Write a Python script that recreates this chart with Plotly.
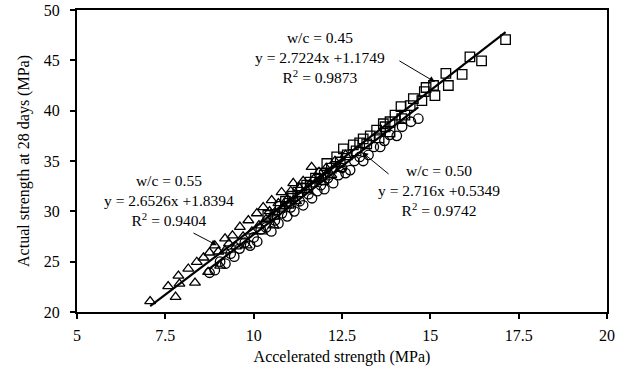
import plotly.graph_objects as go

# w/c = 0.45 (squares)
x45 = [10.4, 10.6, 10.75, 10.9, 11.0, 11.1, 11.25, 11.35, 11.5, 11.6, 11.75, 11.9, 12.0, 12.07, 12.2,
       12.35, 12.45, 12.54, 12.65, 12.82, 12.9, 13.0, 13.1, 13.2, 13.3, 13.48, 13.55, 13.67, 13.72, 13.86,
       13.86, 14.0, 14.17, 14.19, 14.28, 14.43, 14.52, 14.76, 14.83, 14.88, 15.09, 15.13, 15.44, 15.51,
       15.9, 16.12, 16.45, 17.13]
y45 = [29.6, 29.7, 30.5, 31.0, 30.8, 31.5, 31.9, 32.3, 32.6, 32.9, 33.3, 33.8, 33.6, 34.75, 34.3,
       35.4, 34.9, 36.2, 35.6, 36.6, 36.0, 36.8, 37.2, 36.7, 37.5, 38.06, 37.3, 38.7, 38.4, 37.9,
       38.9, 39.55, 40.4, 39.2, 39.55, 40.5, 41.2, 41.0, 41.9, 42.3, 42.5, 41.5, 43.7, 42.5,
       43.6, 45.35, 44.95, 47.05]

# w/c = 0.50 (circles)
x50 = [8.75, 8.9, 9.05, 9.2, 9.35, 9.45, 9.6, 9.75, 9.9, 10.0, 10.1, 10.2, 10.35, 10.5, 10.6, 10.7,
       10.8, 10.95, 11.05, 11.15, 11.3, 11.4, 11.55, 11.65, 11.8, 11.9, 12.0, 12.1, 12.25, 12.4, 12.5,
       12.6, 12.73, 12.85, 13.0, 13.1, 13.25, 13.4, 13.58, 13.7, 13.85, 14.05, 14.2, 14.45, 14.66]
y50 = [23.9, 24.15, 25.0, 24.8, 25.8, 25.5, 26.3, 26.9, 26.6, 27.4, 27.0, 28.2, 28.4, 28.0, 29.1, 28.8,
       29.8, 29.5, 30.4, 30.0, 31.0, 30.6, 31.7, 31.3, 32.0, 32.6, 32.2, 33.3, 32.8, 33.6, 34.3,
       33.8, 34.1, 35.0, 35.4, 35.0, 35.6, 36.4, 36.4, 37.0, 37.6, 37.5, 38.4, 38.9, 39.2]

# w/c = 0.55 (triangles)
x55 = [7.07, 7.58, 7.79, 7.87, 7.9, 8.15, 8.34, 8.39, 8.58, 8.71, 8.75, 8.9, 9.05, 9.0, 9.19, 9.19,
       9.3, 9.4, 9.5, 9.61, 9.7, 9.8, 9.85, 9.95, 10.09, 10.15, 10.23, 10.27, 10.35, 10.45, 10.51,
       10.56, 10.6, 10.7, 10.79, 10.85, 10.95, 11.05, 11.12, 11.2, 11.3, 11.4, 11.5, 11.64, 11.7,
       11.85, 11.95, 12.05, 12.2, 12.3, 12.45, 12.6]
y55 = [21.06, 22.55, 21.5, 23.6, 22.8, 24.3, 22.9, 24.97, 25.4, 23.97, 25.9, 26.6, 24.6, 26.0, 26.1, 27.3,
       26.8, 27.6, 26.5, 28.45, 27.5, 26.6, 29.1, 28.0, 29.8, 28.6, 28.0, 30.4, 29.2, 30.0, 31.1,
       28.6, 29.9, 30.8, 31.9, 30.5, 31.2, 32.0, 32.8, 31.0, 32.3, 33.0, 32.1, 34.4, 33.2,
       33.9, 32.9, 34.3, 33.6, 35.0, 34.2, 35.6]

# trendline fits: slope, intercept, x-range
wc_labels = ["0.45", "0.50", "0.55"]
slopes = [2.7224, 2.716, 2.6526]
intercepts = [1.1749, 0.5349, 1.8394]
slope_text = ["2.7224", "2.716", "2.6526"]
intercept_text = ["1.1749", "0.5349", "1.8394"]
r2_values = ["0.9873", "0.9742", "0.9404"]
fit_x_min = [10.4, 8.75, 7.07]
fit_x_max = [17.13, 14.66, 12.6]

x_ticks = [5, 7.5, 10, 12.5, 15, 17.5, 20]
x_tick_text = ["5", "7.5", "10", "12.5", "15", "17.5", "20"]
y_ticks = [20, 25, 30, 35, 40, 45, 50]

FONT = "Liberation Serif, Times New Roman, serif"

fig = go.Figure()

series = [(x45, y45, "square-open"), (x50, y50, "circle-open"), (x55, y55, "triangle-up-open")]
for (xs, ys, sym), lab in zip(series, wc_labels):
    fig.add_trace(go.Scatter(
        x=xs, y=ys, mode="markers", name="w/c = " + lab,
        marker=dict(symbol=sym, size=9.5, color="black", line=dict(color="black", width=1.3)),
        showlegend=False))

for s, b, x0, x1 in zip(slopes, intercepts, fit_x_min, fit_x_max):
    fig.add_trace(go.Scatter(
        x=[x0, x1], y=[s * x0 + b, s * x1 + b], mode="lines",
        line=dict(color="black", width=2.2), showlegend=False))

# text blocks
text_pos = [(11.88, 45.3), (15.25, 32.1), (7.6, 31.05)]
arrow_tip = [(15.13, 42.85), (13.07, 35.87), (8.96, 26.63)]
arrow_off = [(-37, -22), (28, 23), (-25, -13)]
for i in range(3):
    txt = "w/c = %s<br>y = %sx +%s<br>R<sup>2</sup> = %s" % (
        wc_labels[i], slope_text[i], intercept_text[i], r2_values[i])
    fig.add_annotation(x=text_pos[i][0], y=text_pos[i][1], text=txt, showarrow=False,
                       font=dict(family=FONT, size=15.5, color="black"), align="center",
                       xanchor="center", yanchor="middle")
    fig.add_annotation(x=arrow_tip[i][0], y=arrow_tip[i][1], text="", showarrow=True,
                       ax=arrow_off[i][0], ay=arrow_off[i][1], arrowhead=2, arrowsize=1.2,
                       arrowwidth=1, arrowcolor="black")

axis_common = dict(showgrid=False, zeroline=False, showline=True, linecolor="black", linewidth=2,
                   mirror=True, ticks="outside", ticklen=5, tickwidth=1.5, tickcolor="black",
                   automargin=False,
                   tickfont=dict(family=FONT, size=16, color="black"))

fig.update_xaxes(range=[5, 20], tickvals=x_ticks, ticktext=x_tick_text, ticklabelstandoff=3,
                 title=dict(text="Accelerated strength (MPa)", font=dict(family=FONT, size=16, color="black"),
                            standoff=8),
                 **axis_common)
fig.update_yaxes(range=[20, 50], tickvals=y_ticks, ticklabelstandoff=7,
                 title=dict(text="Actual strength at 28 days (MPa)", font=dict(family=FONT, size=16, color="black"),
                            standoff=10),
                 **axis_common)

fig.update_layout(width=618, height=373, margin=dict(l=77, r=11, t=10, b=61),
                  paper_bgcolor="white", plot_bgcolor="white",
                  font=dict(family=FONT, size=16, color="black"))

fig.write_html("out.html", config={"displayModeBar": False},
               post_script="document.body.style.margin='0px';")
